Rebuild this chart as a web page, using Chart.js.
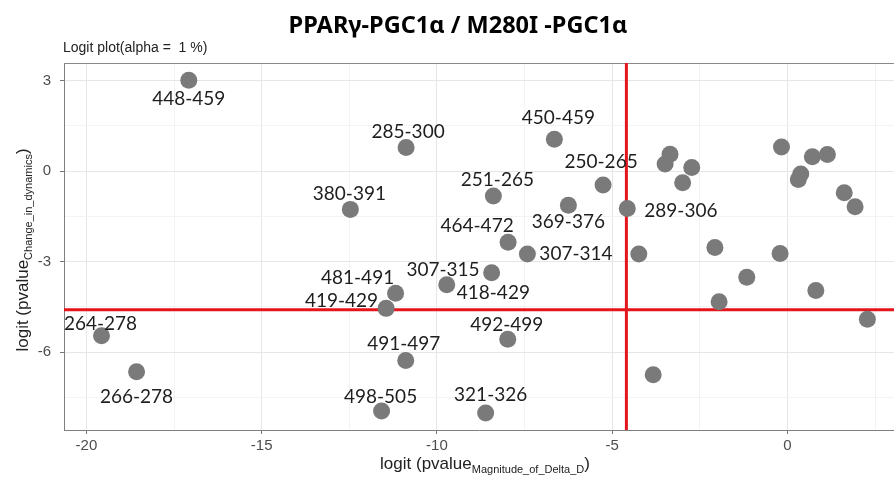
<!DOCTYPE html>
<html>
<head>
<meta charset="utf-8">
<title>Logit plot</title>
<script src="https://cdn.jsdelivr.net/npm/chart.js@4"></script>
<style>
    html, body { margin: 0; padding: 0; background: #ffffff; }
    #wrap { width: 894px; height: 481px; position: relative; }
</style>
</head>
<body>
<div id="wrap"><canvas id="myChart" width="894" height="481"></canvas></div>
<script>
// peptide fragments, one entry per point ('' = not labelled)
const peptides = [
    '448-459', '285-300', '380-391', '450-459', '250-265', '251-265', '369-376',
    '289-306', '464-472', '307-314', '307-315', '418-429', '492-499', '321-326',
    '481-491', '419-429', '264-278', '266-278', '491-497', '498-505',
    '', '', '', '', '', '', '', '', '', '', '', '', '', '', '', '', '', '', ''
];
const logitMagnitude = [
    -17.08, -10.88, -12.47, -6.65, -5.26, -8.39, -6.25,
    -4.57, -7.97, -7.42, -8.44, -9.72, -7.98, -8.61,
    -11.18, -11.45, -19.57, -18.57, -10.89, -11.58,
    -3.35, -3.49, -2.73, -2.99, -0.17, 0.71, 1.14, 0.38, 0.31, 1.62, 1.93,
    -4.24, -2.07, -0.21, -1.16, 0.81, -1.95, 2.28, -3.83
];
const logitChange = [
    3.01, 0.78, -1.27, 1.05, -0.46, -0.83, -1.13,
    -1.24, -2.36, -2.75, -3.37, -3.77, -5.57, -8.02,
    -4.05, -4.55, -5.46, -6.65, -6.28, -7.95,
    0.56, 0.23, 0.12, -0.39, 0.80, 0.47, 0.55, -0.10, -0.28, -0.72, -1.18,
    -2.75, -2.53, -2.73, -3.52, -3.96, -4.33, -4.91, -6.75
];

const xTickValues = [-20, -17.5, -15, -12.5, -10, -7.5, -5, -2.5, 0, 2.5];
const yTickValues = [-7.5, -6, -4.5, -3, -1.5, 0, 1.5, 3];
const xMajor = [-20, -15, -10, -5, 0];
const yMajor = [-6, -3, 0, 3];

// logit(0.01), threshold for alpha = 1 %
const cutoff = Math.log(0.01 / 0.99);

// where each label sits relative to its point: dx, dy, text align
const labelPlacement = {
    '448-459': [0, 19, 'center'],
    '285-300': [2, -16, 'center'],
    '380-391': [-1, -16, 'center'],
    '450-459': [4, -21, 'center'],
    '250-265': [-2, -23, 'center'],
    '251-265': [4, -16, 'center'],
    '369-376': [0, 17, 'center'],
    '289-306': [17, 2, 'left'],
    '464-472': [-31, -16, 'center'],
    '307-314': [12, 0, 'left'],
    '307-315': [-12, -3, 'right'],
    '418-429': [10, 8, 'left'],
    '492-499': [-1, -14, 'center'],
    '321-326': [5, -18, 'center'],
    '481-491': [-38, -15, 'center'],
    '419-429': [-8, -7, 'right'],
    '264-278': [-1, -12, 'center'],
    '266-278': [0, 25, 'center'],
    '491-497': [-2, -17, 'center'],
    '498-505': [-1, -14, 'center']
};

const points = logitMagnitude.map((x, i) => ({ x: x, y: logitChange[i], label: peptides[i] }));

function drawSubscripted(ctx, x, y, main, sub, close, align) {
    const bigFont = '17px "Liberation Sans", Arial, sans-serif';
    const subFont = '11px "Liberation Sans", Arial, sans-serif';
    ctx.font = bigFont;
    const w1 = ctx.measureText(main).width;
    const w3 = ctx.measureText(close).width;
    ctx.font = subFont;
    const w2 = ctx.measureText(sub).width;
    let start = x;
    if (align === 'center') start = x - (w1 + w2 + w3) / 2;
    ctx.textAlign = 'left';
    ctx.textBaseline = 'alphabetic';
    ctx.font = bigFont;
    ctx.fillText(main, start, y);
    ctx.font = subFont;
    ctx.fillText(sub, start + w1, y + 4);
    ctx.font = bigFont;
    ctx.fillText(close, start + w1 + w2, y);
}

// keep the plot area flush with the canvas edges
function noScalePadding(scale) {
    scale.paddingLeft = 0;
    scale.paddingRight = 0;
    scale.paddingTop = 0;
    scale.paddingBottom = 0;
}

const decorations = {
    id: 'decorations',
    beforeDatasetsDraw(chart) {
        const ctx = chart.ctx;
        const area = chart.chartArea;
        const xs = chart.scales.x;
        const ys = chart.scales.y;

        // frame top edge
        ctx.save();
        ctx.strokeStyle = '#8a8a8a';
        ctx.lineWidth = 1;
        ctx.beginPath();
        ctx.moveTo(area.left, area.top + 0.5);
        ctx.lineTo(area.right, area.top + 0.5);
        ctx.stroke();

        // significance cut-off lines
        ctx.strokeStyle = '#e3151d';
        ctx.lineWidth = 3;
        const vx = xs.getPixelForValue(cutoff);
        const hy = ys.getPixelForValue(cutoff);
        ctx.beginPath();
        ctx.moveTo(vx, area.top);
        ctx.lineTo(vx, area.bottom);
        ctx.moveTo(area.left, hy);
        ctx.lineTo(area.right, hy);
        ctx.stroke();
        ctx.restore();
    },
    afterDatasetsDraw(chart) {
        const ctx = chart.ctx;
        const meta = chart.getDatasetMeta(0);
        ctx.save();
        ctx.fillStyle = '#1e1e1e';
        ctx.font = '19px Lato, "Noto Sans", sans-serif';
        ctx.textBaseline = 'middle';
        meta.data.forEach((pt, i) => {
            const name = points[i].label;
            if (!name) return;
            const place = labelPlacement[name];
            ctx.textAlign = place[2];
            ctx.fillText(name, pt.x + place[0], pt.y + place[1]);
        });
        ctx.restore();
    },
    afterDraw(chart) {
        const ctx = chart.ctx;
        ctx.save();
        // title
        ctx.fillStyle = '#000000';
        ctx.font = 'bold 23.5px "Noto Sans", sans-serif';
        ctx.textAlign = 'center';
        ctx.textBaseline = 'alphabetic';
        ctx.fillText('PPARγ-PGC1α / M280I -PGC1α', 458, 33);

        // subtitle
        ctx.fillStyle = '#222222';
        ctx.font = '14px "Liberation Sans", Arial, sans-serif';
        ctx.textAlign = 'left';
        ctx.fillText('Logit plot(alpha =  1 %)', 63, 52);

        // axis titles
        ctx.fillStyle = '#222222';
        drawSubscripted(ctx, 485, 469, 'logit (pvalue', 'Magnitude_of_Delta_D', ')', 'center');
        ctx.translate(28, 250);
        ctx.rotate(-Math.PI / 2);
        drawSubscripted(ctx, 0, 0, 'logit (pvalue', 'Change_in_dynamics', ')', 'center');
        ctx.restore();
    }
};

var ctx = document.getElementById('myChart').getContext('2d');
var myChart = new Chart(ctx, {
    type: 'scatter',
    data: {
        datasets: [{
            data: points,
            backgroundColor: '#7a7a7a',
            borderWidth: 0,
            pointRadius: 8.5,
            pointHoverRadius: 8.5
        }]
    },
    options: {
        responsive: false,
        animation: false,
        layout: { autoPadding: false, padding: { top: 63, left: 0, right: 0, bottom: 0 } },
        plugins: {
            legend: { display: false },
            tooltip: { enabled: false }
        },
        scales: {
            x: {
                type: 'linear',
                min: -20.64,
                max: 3.04,
                afterBuildTicks: scale => { scale.ticks = xTickValues.map(v => ({ value: v })); },
                afterFit: scale => { scale.height = 51; noScalePadding(scale); },
                ticks: {
                    autoSkip: false,
                    maxRotation: 0,
                    padding: 3,
                    color: '#4d4d4d',
                    font: { family: '"Liberation Sans", Arial, sans-serif', size: 15 },
                    callback: v => xMajor.includes(v) ? String(v) : ''
                },
                grid: {
                    color: c => xMajor.includes(c.tick.value) ? '#e6e6e6' : '#f3f3f3',
                    lineWidth: 1,
                    tickLength: 4,
                    tickColor: c => xMajor.includes(c.tick.value) ? '#777777' : 'rgba(0,0,0,0)'
                },
                border: { display: true, color: '#7f7f7f', width: 1 }
            },
            y: {
                type: 'linear',
                min: -8.58,
                max: 3.58,
                afterBuildTicks: scale => { scale.ticks = yTickValues.map(v => ({ value: v })); },
                afterFit: scale => { scale.width = 64; noScalePadding(scale); },
                ticks: {
                    autoSkip: false,
                    padding: 9,
                    color: '#4d4d4d',
                    font: { family: '"Liberation Sans", Arial, sans-serif', size: 15 },
                    callback: v => yMajor.includes(v) ? String(v) : ''
                },
                grid: {
                    color: c => yMajor.includes(c.tick.value) ? '#e6e6e6' : '#f3f3f3',
                    lineWidth: 1,
                    tickLength: 4,
                    tickColor: c => yMajor.includes(c.tick.value) ? '#777777' : 'rgba(0,0,0,0)'
                },
                border: { display: true, color: '#7f7f7f', width: 1 }
            }
        }
    },
    plugins: [decorations]
});
</script>
</body>
</html>
